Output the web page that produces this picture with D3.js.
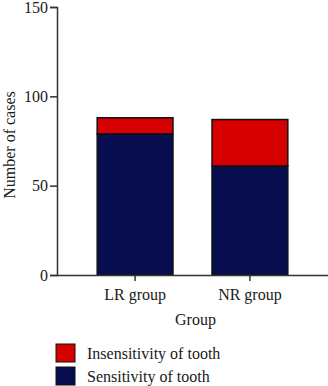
<!DOCTYPE html>
<html>
<head>
  <style>
    body, html { margin: 0; padding: 0; background: #fff; }
    svg { display: block; }
    text { font-family: "Liberation Serif", "Times New Roman", serif; fill: #1a1a1a; }
  </style>
</head>
<body>
  <svg id="svg" width="328" height="386"></svg>
  <script src="https://d3js.org/d3.v7.min.js"></script>
  <script>
    const groups = ["LR group", "NR group"]
    const sensitivity = [79, 61]
    const insensitivity = [9, 26]
    const yTicks = [0, 50, 100, 150]
    const seriesNames = ["Insensitivity of tooth", "Sensitivity of tooth"]
    const seriesColors = ["#d70000", "#070d4f"]

    const svg = d3.select("#svg")
    const plotLeft = 57, plotRight = 328, plotTop = 7, plotBottom = 275

    const x = d3.scaleBand().domain(groups).range([plotLeft, plotRight]).paddingInner(0.34).paddingOuter(0.35)
    const y = d3.scaleLinear().domain([0, 150]).range([plotBottom, plotTop])

    const rows = groups.map((g, i) => ({ group: g, sens: sensitivity[i], insens: insensitivity[i] }))
    const stacked = d3.stack().keys(["sens", "insens"])(rows)
    const colorFor = { sens: seriesColors[1], insens: seriesColors[0] }

    svg.append("g").selectAll("g")
      .data(stacked)
      .join("g")
      .attr("fill", d => colorFor[d.key])
      .selectAll("rect")
      .data(d => d)
      .join("rect")
      .attr("x", d => x(d.data.group))
      .attr("width", x.bandwidth())
      .attr("y", d => y(d[1]))
      .attr("height", d => y(d[0]) - y(d[1]))
      .attr("stroke", "#111")
      .attr("stroke-width", 1.5)

    const yAxis = svg.append("g")
      .attr("transform", `translate(${plotLeft},0)`)
      .call(d3.axisLeft(y).tickValues(yTicks).tickSize(7).tickPadding(2))
    yAxis.selectAll("text").style("font-size", "16px").attr("font-family", null)

    const xAxis = svg.append("g")
      .attr("transform", `translate(0,${plotBottom})`)
      .call(d3.axisBottom(x).tickSize(6).tickSizeOuter(0).tickPadding(8))
    xAxis.selectAll("text").style("font-size", "16px").attr("font-family", null)

    svg.selectAll(".domain, .tick line").attr("stroke", "#333").attr("stroke-width", 1.5)

    svg.append("text")
      .attr("transform", `translate(15,${(plotTop + plotBottom) / 2 + 4}) rotate(-90)`)
      .attr("text-anchor", "middle")
      .style("font-size", "16px")
      .text("Number of cases")

    // axis title sits between the two group ticks
    svg.append("text")
      .attr("x", (x("LR group") + x("NR group")) / 2 + x.bandwidth() / 2 + 3)
      .attr("y", 325)
      .attr("text-anchor", "middle")
      .style("font-size", "16px")
      .text("Group")

    const legend = svg.append("g")
    seriesNames.forEach((name, i) => {
      const ly = 344 + i * 23
      legend.append("rect")
        .attr("x", 56).attr("y", ly).attr("width", 19).attr("height", 18)
        .attr("fill", seriesColors[i]).attr("stroke", "#111").attr("stroke-width", 1)
      legend.append("text")
        .attr("x", 87).attr("y", ly + 15)
        .style("font-size", "16px")
        .text(name)
    })
  </script>
</body>
</html>
